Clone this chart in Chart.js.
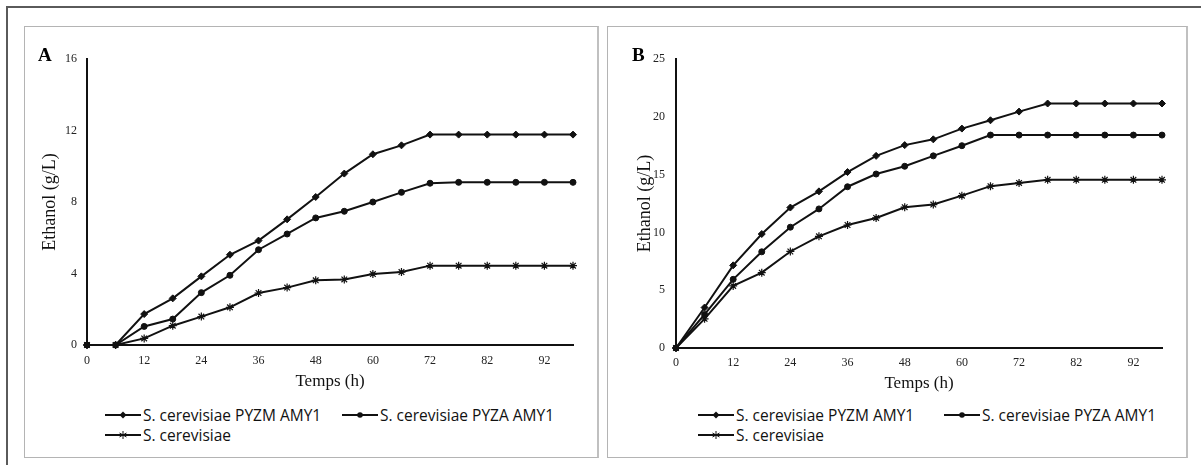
<!DOCTYPE html>
<html>
<head>
<meta charset="utf-8">
<script src="https://cdn.jsdelivr.net/npm/chart.js@4.4.0/dist/chart.umd.min.js"></script>
<style>
  body { margin: 0; background: #fff; }
  #page { position: relative; width: 1201px; height: 465px; overflow: hidden; background: #fff; }
  .frame { position: absolute; left: 6px; top: 6px; width: 1300px; height: 600px;
           border-top: 2px solid #5a5a5a; border-left: 2px solid #5a5a5a; }
  .box { position: absolute; top: 26px; height: 430px; border: 1px solid #b4b4b4; border-right: 2px solid #c0c0c0; }
  .wrap { position: absolute; top: 0; height: 400px; }
  .letter { position: absolute; top: 44px; font: bold 19px "Liberation Serif", serif; color: #000; }
  .legend { position: absolute; font: 15.5px "Open Sans", sans-serif; color: #111; }
  .row { position: absolute; left: 0; display: flex; white-space: nowrap; height: 20px; align-items: center; }
  .item { display: flex; align-items: center; }
  .item svg { margin-right: 2px; }
</style>
</head>
<body>
<div id="page">
  <div class="frame"></div>
  <div class="box" style="left:24px; width:572px;"></div>
  <div class="box" style="left:607px; width:578px;"></div>

  <div class="wrap" style="left:0; width:600px;"><canvas id="chartA" width="600" height="400"></canvas></div>
  <div class="wrap" style="left:600px; width:601px;"><canvas id="chartB" width="601" height="400"></canvas></div>

  <div class="letter" style="left:38px;">A</div>
  <div class="letter" style="left:632px;">B</div>

  <div class="legend" id="legendA" style="left:105px; top:405px;"></div>
  <div class="legend" id="legendB" style="left:698px; top:405px;"></div>
</div>

<script>
// temps (h) - une valeur toutes les 6 h, une étiquette sur deux
const hours = ['0', '6', '12', '18', '24', '30', '36', '42', '48', '54', '60', '66', '72', '77', '82', '87', '92', '97'];

const seriesNames = ['S. cerevisiae PYZM AMY1', 'S. cerevisiae PYZA AMY1', 'S. cerevisiae'];

// Figure A
const pyzmA = [0, 0, 1.73, 2.61, 3.84, 5.05, 5.84, 7.03, 8.28, 9.59, 10.67, 11.17, 11.77, 11.77, 11.77, 11.77, 11.77, 11.77];
const pyzaA = [0, 0, 1.04, 1.45, 2.93, 3.90, 5.33, 6.21, 7.11, 7.48, 8.00, 8.54, 9.05, 9.10, 9.10, 9.10, 9.10, 9.10];
const scA   = [0, 0, 0.37, 1.08, 1.59, 2.11, 2.91, 3.21, 3.62, 3.67, 3.97, 4.08, 4.44, 4.44, 4.44, 4.44, 4.44, 4.44];

// Figure B
const pyzmB = [0, 3.50, 7.15, 9.86, 12.15, 13.55, 15.22, 16.62, 17.55, 18.05, 18.98, 19.70, 20.45, 21.15, 21.15, 21.15, 21.15, 21.15];
const pyzaB = [0, 2.90, 5.94, 8.32, 10.45, 12.03, 13.95, 15.05, 15.72, 16.62, 17.50, 18.42, 18.42, 18.42, 18.42, 18.42, 18.42, 18.42];
const scB   = [0, 2.52, 5.37, 6.52, 8.35, 9.66, 10.64, 11.25, 12.18, 12.41, 13.18, 14.00, 14.28, 14.55, 14.55, 14.55, 14.55, 14.55];

const MARKERS = ['rectRot', 'circle', 'star'];
const MARKER_SIZE = [3.5, 3, 4];
const INK = '#111';
const SERIF = '"Liberation Serif", "Times New Roman", serif';

function makeDatasets(arrs) {
    return arrs.map((d, i) => ({
        label: seriesNames[i],
        data: d,
        borderColor: INK,
        backgroundColor: INK,
        borderWidth: 2,
        pointStyle: MARKERS[i],
        pointRadius: MARKER_SIZE[i],
        pointBorderWidth: i === 2 ? 1.2 : 1,
        tension: 0,
        clip: false
    }));
}

function makeChart(id, arrs, cfg) {
    return new Chart(document.getElementById(id), {
        type: 'line',
        data: { labels: hours, datasets: makeDatasets(arrs) },
        options: {
            responsive: false,
            animation: false,
            events: [],
            layout: { padding: { top: 59, right: cfg.padRight, bottom: 0, left: 0 } },
            plugins: { legend: { display: false }, tooltip: { enabled: false } },
            scales: {
                x: {
                    type: 'category',
                    offset: false,
                    grid: { display: false, drawTicks: false },
                    border: { display: true, color: INK, width: 2 },
                    ticks: {
                        autoSkip: false, maxRotation: 0, padding: cfg.xTickPad,
                        color: '#222', font: { family: SERIF, size: 12 },
                        callback: function(v, idx) { return idx % 2 === 0 ? hours[idx] : ''; }
                    },
                    title: {
                        display: true, text: 'Temps (h)', color: '#111',
                        font: { family: SERIF, size: 17 }, padding: { top: 0, bottom: cfg.xTitlePad }
                    },
                    afterFit: s => { s.height = cfg.xHeight; }
                },
                y: {
                    min: 0, max: cfg.yMax,
                    grid: { display: false, drawTicks: false },
                    border: { display: true, color: INK, width: 2 },
                    ticks: {
                        stepSize: cfg.yStep, padding: cfg.yTickPad,
                        color: '#222', font: { family: SERIF, size: 12 }
                    },
                    title: {
                        display: true, text: 'Ethanol (g/L)', color: '#111',
                        font: { family: SERIF, size: 18 }, padding: { top: cfg.yTitlePad, bottom: 0 }
                    },
                    afterFit: s => { s.width = cfg.yWidth; }
                }
            }
        }
    });
}

makeChart('chartA', [pyzmA, pyzaA, scA], {
    yMax: 16, yStep: 4, padRight: 27, yWidth: 87, xHeight: 55,
    xTickPad: 9, yTickPad: 10, xTitlePad: 8, yTitlePad: 39
});
makeChart('chartB', [pyzmB, pyzaB, scB], {
    yMax: 25, yStep: 5, padRight: 39, yWidth: 76, xHeight: 52,
    xTickPad: 8, yTickPad: 11, xTitlePad: 6, yTitlePad: 34
});

// légende façon Excel : trait + marqueur
function markerSvg(i) {
    let m = '';
    if (i === 0) m = '<polygon points="18,2.5 21.5,6 18,9.5 14.5,6" fill="' + INK + '"/>';
    if (i === 1) m = '<circle cx="18" cy="6" r="2.8" fill="' + INK + '"/>';
    if (i === 2) m = '<path d="M18 2V10M14.5 4L21.5 8M14.5 8L21.5 4" stroke="' + INK + '" stroke-width="1"/>';
    return '<svg width="36" height="12"><line x1="0" y1="6" x2="36" y2="6" stroke="' + INK + '" stroke-width="2"/>' + m + '</svg>';
}

function buildLegend(id, firstWidth) {
    const el = document.getElementById(id);
    const item = i => '<div class="item">' + markerSvg(i) + '<span>' + seriesNames[i] + '</span></div>';
    el.innerHTML =
        '<div class="row" style="top:0"><div style="width:' + firstWidth + 'px">' + item(0) + '</div>' + item(1) + '</div>' +
        '<div class="row" style="top:20px">' + item(2) + '</div>';
}
buildLegend('legendA', 237);
buildLegend('legendB', 246);
</script>
</body>
</html>
